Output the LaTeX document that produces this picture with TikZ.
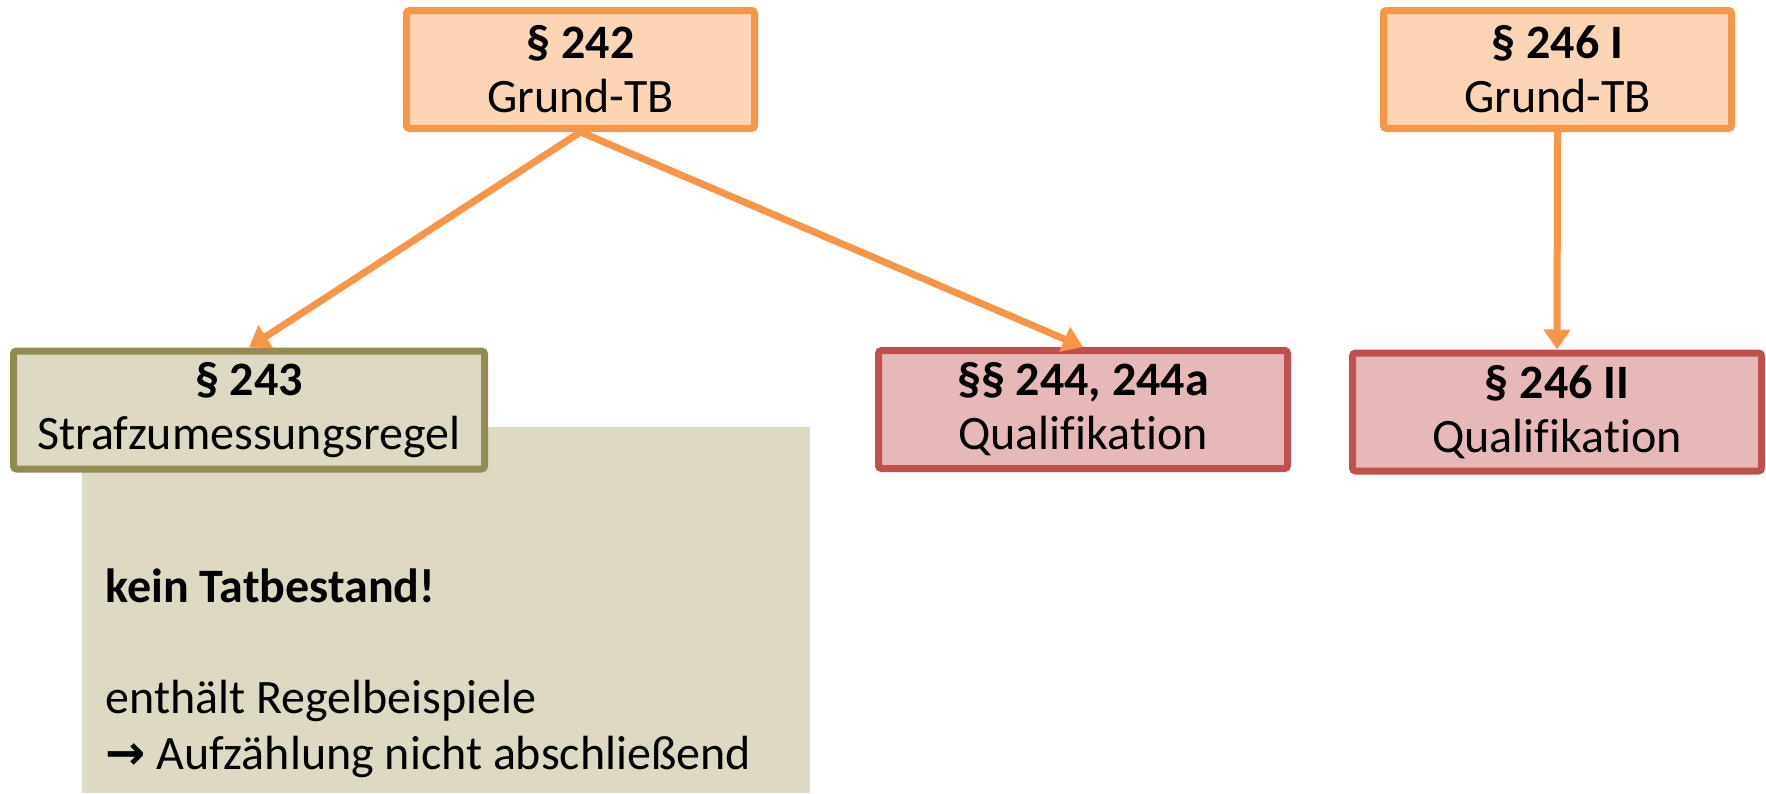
\documentclass[tikz,border=0pt]{standalone}
\usepackage{fontspec}
\setmainfont[Ligatures=NoCommon]{Carlito}
\newfontfamily\arrowfont{DejaVu Sans}
\usetikzlibrary{arrows.meta, positioning}

\definecolor{orangeline}{HTML}{F79646}
\definecolor{orangefill}{HTML}{FCD5B5}
\definecolor{redline}{HTML}{C0504D}
\definecolor{redfill}{HTML}{E6B9B8}
\definecolor{oliveline}{HTML}{948A54}
\definecolor{olivefill}{HTML}{DDD9C3}

\begin{document}
\begin{tikzpicture}[x=0.5pt, y=-0.5pt,
  >={Triangle[length=10pt, width=13pt]},
  every node/.style={font=\fontsize{24}{27}\selectfont, align=center, inner sep=0pt},
  box/.style={line width=3.5pt, rounded corners=1.5pt, minimum height=59pt},
  grund/.style={box, draw=orangeline, fill=orangefill, minimum width=174pt},
  quali/.style={box, draw=redline, fill=redfill, minimum width=204.5pt},
  regel/.style={box, draw=oliveline, fill=olivefill, minimum width=235.5pt},
  note/.style={anchor=base west, align=left},
  conn/.style={->, draw=orangeline, line width=3.5pt}
 ]
 \useasboundingbox (0,0) rectangle (1766,793);

 % grey note behind the 243 box
 \fill [olivefill] (82,427) rectangle (810,793);

 \node [grund] (G242) at (580.5,69.5) {\textbf{§ 242}\\Grund-TB};
 \node [grund] (G246) at (1557.5,69.5) {\textbf{§ 246 I}\\Grund-TB};
 \node [regel] (S243) at (249,410) {\textbf{§ 243}\\Strafzumessungsregel};
 \node [quali] (Q244) at (1083,409.5) {\textbf{§§ 244, 244a}\\Qualifikation};
 \node [quali] (Q246) at (1557,412) {\textbf{§ 246 II}\\Qualifikation};

 \node [note] (kein) at (105,602) {\textbf{kein Tatbestand!}};
 \node [note] (enth) at (105,713) {enthält Regelbeispiele};
 \node [note] (aufz) at (105,769) {{\arrowfont\bfseries →} Aufzählung nicht abschließend};

 \draw [conn] (G242.south) -- (S243.north);
 \draw [conn] (G242.south) -- (Q244.north);
 \draw [conn] (G246.south) -- (Q246.north);
\end{tikzpicture}
\end{document}
